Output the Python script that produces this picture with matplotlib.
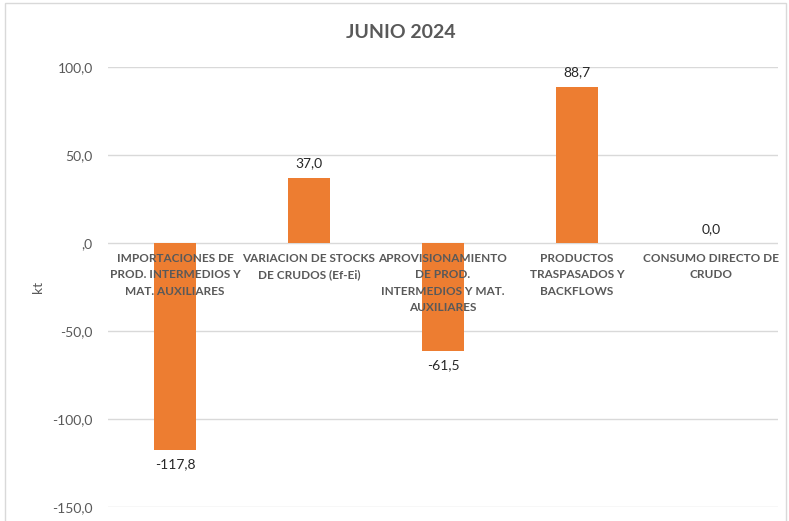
import matplotlib.pyplot as plt
from matplotlib.patches import Rectangle

plt.rcParams['font.family'] = ['Lato', 'DejaVu Sans']

categories = [
    'IMPORTACIONES DE\nPROD. INTERMEDIOS Y\nMAT. AUXILIARES',
    'VARIACION DE STOCKS\nDE CRUDOS (Ef-Ei)',
    'APROVISIONAMIENTO\nDE PROD.\nINTERMEDIOS Y MAT.\nAUXILIARES',
    'PRODUCTOS\nTRASPASADOS Y\nBACKFLOWS',
    'CONSUMO DIRECTO DE\nCRUDO',
]
values = [-117.8, 37.0, -61.5, 88.7, 0.0]
value_labels = ['-117,8', '37,0', '-61,5', '88,7', '0,0']
y_ticks = [100, 50, 0, -50, -100, -150]
y_tick_labels = ['100,0', '50,0', ',0', '-50,0', '-100,0', '-150,0']

GRAY = '#595959'
ORANGE = '#ED7D31'

fig = plt.figure(figsize=(7.89, 5.21), dpi=100)
ax = fig.add_axes([0.1369, 0.0269, 0.8491, 0.8445])

x = list(range(len(values)))
ax.bar(x, values, width=0.32, color=ORANGE, zorder=3)

ax.set_xlim(-0.5, len(values) - 0.5)
ax.set_ylim(-150, 100)
ax.set_yticks(y_ticks)
ax.set_yticklabels(y_tick_labels, color=GRAY, fontsize=10)
ax.tick_params(axis='y', length=0, pad=11)
ax.set_xticks([])
ax.grid(axis='y', color='#D9D9D9', linewidth=1, zorder=0)
for s in ax.spines.values():
    s.set_visible(False)

# category labels sit just under the zero line
for i, lab in enumerate(categories):
    ax.annotate(lab, (i, 0), xytext=(0, -7), textcoords='offset points',
                ha='center', va='top', fontsize=8.5, fontweight='bold',
                color=GRAY, linespacing=1.62, zorder=4)

# value labels
for i, (v, lab) in enumerate(zip(values, value_labels)):
    off = 6 if v >= 0 else -6
    ax.annotate(lab, (i, v), xytext=(0, off), textcoords='offset points',
                ha='center', va='bottom' if v >= 0 else 'top',
                fontsize=10, color='#262626', zorder=4)

ax.set_ylabel('kt', color=GRAY, fontsize=10, labelpad=6)
fig.text(0.508, 0.938, 'JUNIO 2024', ha='center', va='center',
         fontsize=14, fontweight='bold', color=GRAY)

fig.patches.append(Rectangle((0.006, -0.01), 0.99, 1.004, transform=fig.transFigure,
                             fill=False, edgecolor='#D9D9D9', linewidth=1))

fig.savefig('out.png', dpi=100)
